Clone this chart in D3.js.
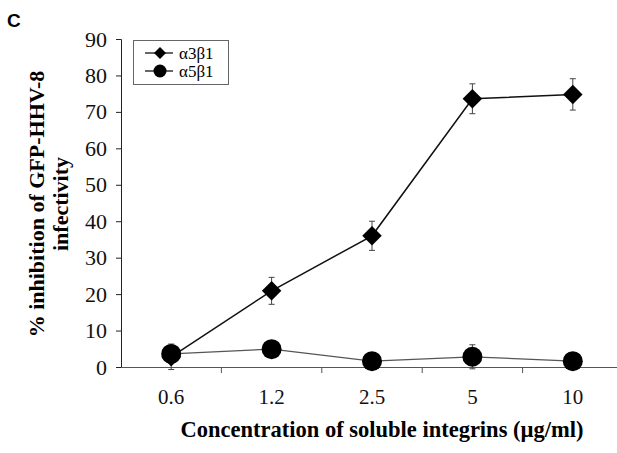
<!DOCTYPE html>
<html>
<head>
<meta charset="utf-8">
<script src="https://cdn.jsdelivr.net/npm/d3@7"></script>
<style>
  body { margin: 0; background: #fff; }
  text { font-family: "Liberation Serif", "Times New Roman", serif; }
</style>
</head>
<body>
<div id="chart"></div>
<script>
var concentrations = ["0.6", "1.2", "2.5", "5", "10"];
var a3b1 = [2.8, 20.9, 36.0, 73.6, 74.8];
var a3b1Err = [3.5, 3.7, 4.0, 4.1, 4.3];
var a5b1 = [3.6, 4.9, 1.6, 2.8, 1.6];
var a5b1Err = [0, 0, 0, 3.3, 0];
var yTicks = [0, 10, 20, 30, 40, 50, 60, 70, 80, 90];

var w = 617, h = 453;
var svg = d3.select("#chart").append("svg").attr("width", w).attr("height", h);

var x = d3.scaleBand().domain(concentrations).range([121, 623]);
var y = d3.scaleLinear().domain([0, 90]).range([367, 39]);
var cx = function (d, i) { return x(concentrations[i]) + x.bandwidth() / 2; };

// axes
var yAxis = svg.append("g").attr("transform", "translate(121,0)")
    .call(d3.axisLeft(y).tickValues(yTicks).tickSize(5).tickPadding(9));
yAxis.select(".domain").attr("stroke", "#222");
yAxis.selectAll(".tick line").attr("stroke", "#222");
yAxis.selectAll("text").style("font-size", "22px").attr("fill", "#111");

var xAxis = svg.append("g").attr("transform", "translate(0,367)")
    .call(d3.axisBottom(x).tickSize(0).tickPadding(22));
xAxis.select(".domain").attr("stroke", "#555");
xAxis.selectAll("text").style("font-size", "21px").attr("fill", "#111");
// tick marks sit on the band edges
svg.append("g").selectAll("line").data(concentrations.slice(1)).enter().append("line")
    .attr("x1", function (d) { return x(d); }).attr("x2", function (d) { return x(d); })
    .attr("y1", 367).attr("y2", 373).attr("stroke", "#555");

// lines
var line = d3.line().x(cx).y(function (d) { return y(d); });
svg.append("path").datum(a5b1).attr("d", line).attr("fill", "none")
    .attr("stroke", "#555").attr("stroke-width", 1.2);
svg.append("path").datum(a3b1).attr("d", line).attr("fill", "none")
    .attr("stroke", "#111").attr("stroke-width", 1.5);

// error bars
function errBars(vals, errs) {
    var g = svg.append("g").attr("stroke", "#444").attr("stroke-width", 1);
    vals.forEach(function (v, i) {
        if (!errs[i]) return;
        var px = cx(v, i);
        g.append("line").attr("x1", px).attr("x2", px).attr("y1", y(v + errs[i])).attr("y2", y(v - errs[i]));
        g.append("line").attr("x1", px - 3).attr("x2", px + 3).attr("y1", y(v + errs[i])).attr("y2", y(v + errs[i]));
        g.append("line").attr("x1", px - 3).attr("x2", px + 3).attr("y1", y(v - errs[i])).attr("y2", y(v - errs[i]));
    });
}
errBars(a3b1, a3b1Err);
errBars(a5b1, a5b1Err);

var diamond = d3.symbol().type(d3.symbolSquare).size(190);
svg.append("g").selectAll("path").data(a3b1).enter().append("path")
    .attr("d", diamond)
    .attr("transform", function (d, i) { return "translate(" + cx(d, i) + "," + y(d) + ") rotate(45)"; })
    .attr("fill", "#000");

svg.append("g").selectAll("circle").data(a5b1).enter().append("circle")
    .attr("cx", cx).attr("cy", function (d) { return y(d); }).attr("r", 10)
    .attr("fill", "#000");

// legend
var lg = svg.append("g");
lg.append("rect").attr("x", 133.5).attr("y", 40.5).attr("width", 95).attr("height", 44)
    .attr("fill", "#fff").attr("stroke", "#666");
var legendItems = ["\u03b13\u03b21", "\u03b15\u03b21"];
legendItems.forEach(function (name, i) {
    var ly = 53 + i * 18;
    lg.append("line").attr("x1", 145).attr("x2", 173).attr("y1", ly).attr("y2", ly).attr("stroke", "#000").attr("stroke-width", 1.2);
    if (i === 0) {
        lg.append("path").attr("d", d3.symbol().type(d3.symbolSquare).size(72))
            .attr("transform", "translate(160," + ly + ") rotate(45)").attr("fill", "#000");
    } else {
        lg.append("circle").attr("cx", 160).attr("cy", ly).attr("r", 6.5).attr("fill", "#000");
    }
    lg.append("text").attr("x", 179).attr("y", ly + 6).text(name).style("font-size", "17px");
});

// titles
svg.append("text").attr("x", 7).attr("y", 27).text("C")
    .style("font-family", "'Liberation Sans', Arial, sans-serif").style("font-weight", "bold").style("font-size", "19px");

var yt = svg.append("text").attr("transform", "translate(44,204) rotate(-90)")
    .attr("text-anchor", "middle").style("font-weight", "bold").style("font-size", "22px");
yt.append("tspan").attr("x", 0).attr("dy", 0).text("% inhibition of GFP-HHV-8");
yt.append("tspan").attr("x", 0).attr("dy", 24).text("infectivity");

svg.append("text").attr("x", 382).attr("y", 437).attr("text-anchor", "middle")
    .style("font-weight", "bold").style("font-size", "22.5px")
    .text("Concentration of soluble integrins (\u00b5g/ml)");
</script>
</body>
</html>
